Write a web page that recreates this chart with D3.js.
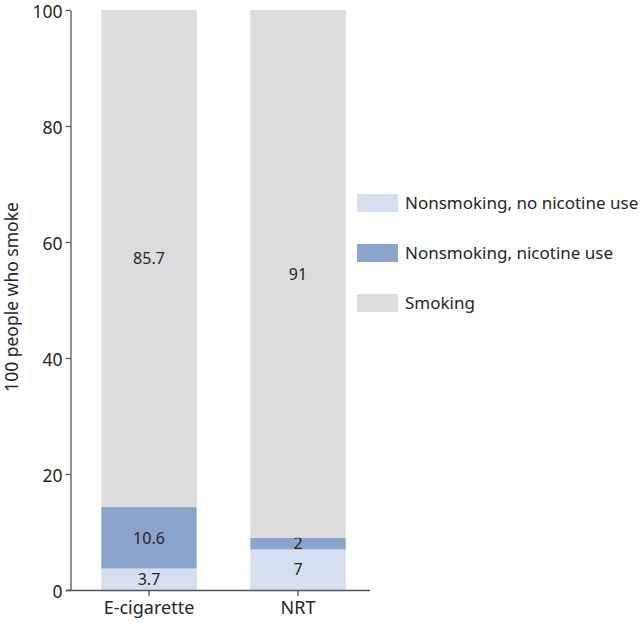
<!DOCTYPE html>
<html>
<head>
<meta charset="utf-8">
<script src="https://cdn.jsdelivr.net/npm/d3@7"></script>
<style>
  body { margin: 0; background: #fff; }
  svg text { font-family: "Noto Sans", "Open Sans", sans-serif; fill: #262626; }
  .axis path, .axis line { stroke: #555; stroke-width: 1.3px; }
</style>
</head>
<body>
<svg id="chart" width="640" height="625"></svg>
<script>
// data
var groups = ["E-cigarette", "NRT"];
var seriesNames = ["Nonsmoking, no nicotine use", "Nonsmoking, nicotine use", "Smoking"];
var seriesColors = ["#d5dff0", "#8aa5cc", "#dcdcde"];
var noNicotine = [3.7, 7];
var nicotineUse = [10.6, 2];
var smoking = [85.7, 91];
var yTicks = [0, 20, 40, 60, 80, 100];

var svg = d3.select("#chart");

var y = d3.scaleLinear().domain([0, 100]).range([590, 10]);
var x = d3.scaleBand().domain(groups).range([70, 377]).paddingInner(0.36).paddingOuter(0.21);

// build stack rows
var rows = groups.map(function(g, i) {
  return { group: g, s0: noNicotine[i], s1: nicotineUse[i], s2: smoking[i] };
});
var stack = d3.stack().keys(["s0", "s1", "s2"])(rows);

var layer = svg.selectAll("g.layer")
  .data(stack)
  .enter().append("g")
  .attr("class", "layer")
  .attr("fill", function(d, i) { return seriesColors[i]; });

layer.selectAll("rect")
  .data(function(d) { return d; })
  .enter().append("rect")
  .attr("x", function(d) { return x(d.data.group); })
  .attr("width", x.bandwidth())
  .attr("y", function(d) { return y(d[1]); })
  .attr("height", function(d) { return y(d[0]) - y(d[1]); });

// value labels in the middle of each segment
layer.selectAll("text")
  .data(function(d) { return d.map(function(p) { p.key = d.key; return p; }); })
  .enter().append("text")
  .attr("x", function(d) { return x(d.data.group) + x.bandwidth() / 2; })
  .attr("y", function(d) { return y((d[0] + d[1]) / 2); })
  .attr("dy", "0.36em")
  .attr("text-anchor", "middle")
  .style("font-size", "16px")
  .text(function(d) { return d.data[d.key]; });

// axes
svg.append("g")
  .attr("class", "axis")
  .attr("transform", "translate(0,590)")
  .call(d3.axisBottom(x).tickSize(6).tickSizeOuter(0).tickPadding(5))
  .call(function(g) { g.select(".domain").attr("d", "M66,0.5H370"); })
  .selectAll("text").style("font-size", "18px");

svg.append("g")
  .attr("class", "axis")
  .attr("transform", "translate(70.5,0)")
  .call(d3.axisLeft(y).tickValues(yTicks).tickSize(5).tickSizeOuter(0).tickPadding(3))
  .selectAll("text").style("font-size", "17.5px").attr("dy", "0.4em");

svg.append("text")
  .attr("transform", "translate(18,297) rotate(-90)")
  .attr("text-anchor", "middle")
  .style("font-size", "17.5px")
  .text("100 people who smoke");

// legend
var legend = svg.selectAll("g.legend")
  .data(seriesNames)
  .enter().append("g")
  .attr("class", "legend")
  .attr("transform", function(d, i) { return "translate(357," + (203 + i * 50) + ")"; });

legend.append("rect")
  .attr("x", 0).attr("y", -9)
  .attr("width", 41).attr("height", 18)
  .attr("fill", function(d, i) { return seriesColors[i]; });

legend.append("text")
  .attr("x", 48).attr("dy", "0.35em")
  .style("font-size", "17px")
  .text(function(d) { return d; });
</script>
</body>
</html>
